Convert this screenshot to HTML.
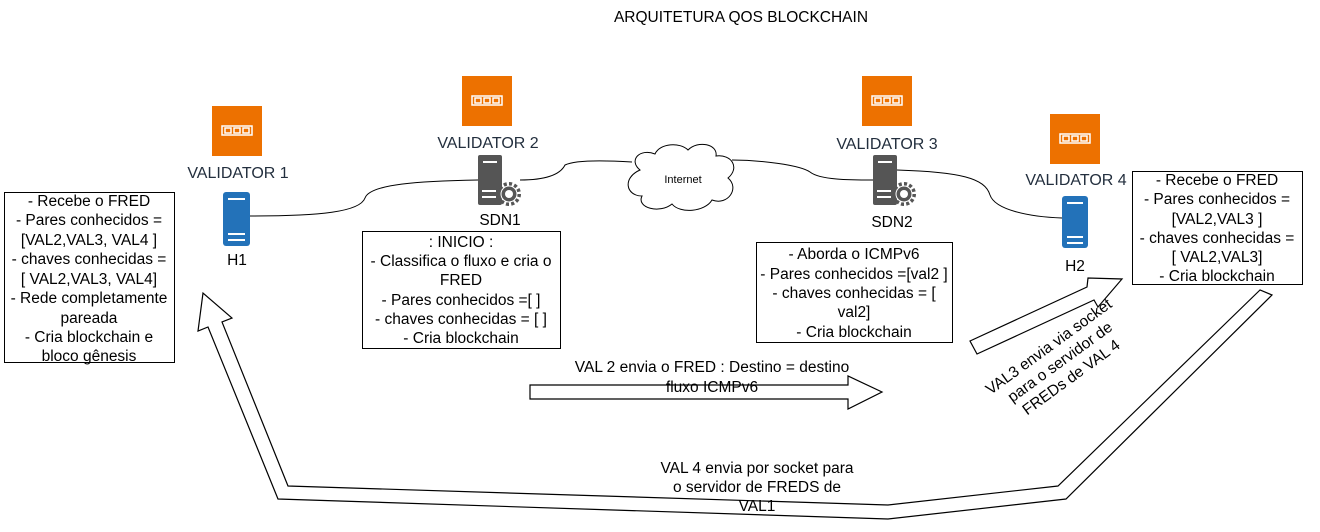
<!DOCTYPE html>
<html><head><meta charset="utf-8"><style>
html,body{margin:0;padding:0;background:#fff;}
svg{display:block;font-family:"Liberation Sans",Arial,sans-serif;}
</style></head><body>
<svg width="1320" height="532" viewBox="0 0 1320 532" xmlns="http://www.w3.org/2000/svg">
<rect width="1320" height="532" fill="#fff"/>
<text x="741" y="22" font-size="15.5" text-anchor="middle" fill="#000">ARQUITETURA QOS BLOCKCHAIN</text>

<g fill="none" stroke="#000" stroke-width="1">
<path d="M250,216 C320,216 360,212 365,198 C370,184 420,181 478,180"/>
<path d="M520,180 C545,180 560,175 565,165 C575,160 600,160 632,162"/>
<path d="M732,160 C760,160 800,165 810,172 C820,180 850,180 873,180"/>
<path d="M897,170 C960,172 985,178 990,195 C995,210 1030,217 1062,218"/>
</g>

<path d="M640,170 C628,160 640,148 655,154 C660,143 680,142 688,150 C698,140 718,144 716,156 C732,154 740,168 728,178 C740,188 728,206 712,200 C705,212 680,214 672,204 C660,214 636,208 642,196 C626,196 622,178 640,170 Z" fill="#fff" stroke="#000" stroke-width="1"/>
<text x="683" y="183" font-size="11" text-anchor="middle">Internet</text>

<g>
<rect x="212" y="106" width="50" height="50" fill="#ED7100"/>
<rect x="462" y="76" width="50" height="50" fill="#ED7100"/>
<rect x="862" y="76" width="50" height="50" fill="#ED7100"/>
<rect x="1050" y="114" width="50" height="50" fill="#ED7100"/>
</g>
<g fill="none" stroke="#fff" stroke-width="1.5">
<g transform="translate(212,106)"><rect x="10" y="20" width="30" height="9"/><rect x="13" y="22" width="6" height="5"/><rect x="22" y="22" width="6" height="5"/><rect x="31" y="22" width="6" height="5"/></g>
<g transform="translate(462,76)"><rect x="10" y="20" width="30" height="9"/><rect x="13" y="22" width="6" height="5"/><rect x="22" y="22" width="6" height="5"/><rect x="31" y="22" width="6" height="5"/></g>
<g transform="translate(862,76)"><rect x="10" y="20" width="30" height="9"/><rect x="13" y="22" width="6" height="5"/><rect x="22" y="22" width="6" height="5"/><rect x="31" y="22" width="6" height="5"/></g>
<g transform="translate(1050,114)"><rect x="10" y="20" width="30" height="9"/><rect x="13" y="22" width="6" height="5"/><rect x="22" y="22" width="6" height="5"/><rect x="31" y="22" width="6" height="5"/></g>
</g>

<g font-size="16" fill="#232F3E" text-anchor="middle">
<text x="238" y="178">VALIDATOR 1</text>
<text x="488" y="148">VALIDATOR 2</text>
<text x="887" y="149">VALIDATOR 3</text>
<text x="1076" y="185">VALIDATOR 4</text>
</g>

<g>
<rect x="223" y="192" width="27" height="54" rx="3" fill="#2372B9"/>
<rect x="228" y="198" width="17" height="2" fill="#fff"/>
<rect x="228" y="233" width="17" height="2" fill="#fff"/>
<rect x="228" y="239" width="17" height="2" fill="#fff"/>
<rect x="1062" y="196" width="26" height="52" rx="3" fill="#2372B9"/>
<rect x="1067" y="202" width="16" height="2" fill="#fff"/>
<rect x="1067" y="236" width="16" height="2" fill="#fff"/>
<rect x="1067" y="242" width="16" height="2" fill="#fff"/>
</g>

<g>
<rect x="478" y="155" width="24" height="50" rx="2" fill="#555"/>
<rect x="483" y="161" width="14" height="2" fill="#fff"/>
<circle cx="509" cy="194" r="10" fill="none" stroke="#555" stroke-width="4" stroke-dasharray="3 2.2"/>
<circle cx="509" cy="194" r="8" fill="#555" stroke="#fff" stroke-width="1"/>
<circle cx="509" cy="194" r="4" fill="#fff"/>
<rect x="482" y="190" width="14" height="2" fill="#fff"/>
<rect x="482" y="196" width="14" height="2" fill="#fff"/>
</g>
<g>
<rect x="873" y="155" width="24" height="50" rx="2" fill="#555"/>
<rect x="878" y="161" width="14" height="2" fill="#fff"/>
<circle cx="904" cy="194" r="10" fill="none" stroke="#555" stroke-width="4" stroke-dasharray="3 2.2"/>
<circle cx="904" cy="194" r="8" fill="#555" stroke="#fff" stroke-width="1"/>
<circle cx="904" cy="194" r="4" fill="#fff"/>
<rect x="877" y="190" width="14" height="2" fill="#fff"/>
<rect x="877" y="196" width="14" height="2" fill="#fff"/>
</g>

<g font-size="15.5" fill="#000" text-anchor="middle">
<text x="237" y="265">H1</text>
<text x="500" y="225">SDN1</text>
<text x="892" y="227">SDN2</text>
<text x="1075" y="271">H2</text>
</g>

<g fill="#fff" stroke="#000" stroke-width="1">
<rect x="4.5" y="192.5" width="170" height="170"/>
<rect x="362.5" y="231.5" width="198" height="117"/>
<rect x="756.5" y="242.5" width="196" height="100"/>
<rect x="1132.5" y="171.5" width="170" height="113"/>
</g>
<g font-size="15.5" fill="#000" text-anchor="middle">
<text x="89" y="206">- Recebe o FRED</text>
<text x="89" y="225">- Pares conhecidos =</text>
<text x="89" y="245">[VAL2,VAL3, VAL4 ]</text>
<text x="89" y="264">- chaves conhecidas =</text>
<text x="89" y="284">[ VAL2,VAL3, VAL4]</text>
<text x="89" y="303">- Rede completamente</text>
<text x="89" y="323">pareada</text>
<text x="89" y="342">- Cria blockchain e</text>
<text x="89" y="361">bloco gênesis</text>

<text x="461" y="247">: INICIO :</text>
<text x="461" y="266">- Classifica o fluxo e cria o</text>
<text x="461" y="285">FRED</text>
<text x="461" y="305">- Pares conhecidos =[ ]</text>
<text x="461" y="324">- chaves conhecidas = [ ]</text>
<text x="461" y="343">- Cria blockchain</text>

<text x="854" y="259">- Aborda o ICMPv6</text>
<text x="854" y="279">- Pares conhecidos =[val2 ]</text>
<text x="854" y="298">- chaves conhecidas = [</text>
<text x="854" y="317">val2]</text>
<text x="854" y="337">- Cria blockchain</text>

<text x="1217" y="185">- Recebe o FRED</text>
<text x="1217" y="204">- Pares conhecidos =</text>
<text x="1217" y="224">[VAL2,VAL3 ]</text>
<text x="1217" y="243">- chaves conhecidas =</text>
<text x="1217" y="262">[ VAL2,VAL3]</text>
<text x="1217" y="281">- Cria blockchain</text>
</g>

<g fill="none" stroke="#000" stroke-width="1.2" stroke-linejoin="miter">
<polygon points="530,385 848,385 848,376 882,392 848,409 848,399 530,399"/>
<polygon points="970,341 1087,287 1088,278 1122,279 1098,307 1094,300 977,354"/>
<polygon points="1260,290 1058,486 888,505 288,486 222,322 232,318 203,293 198,331 208,327 278,499 888,519 1066,499 1272,295"/>
</g>

<g font-size="15.5" fill="#000" text-anchor="middle">
<text x="712" y="372">VAL 2 envia o FRED : Destino = destino</text>
<text x="712" y="392">fluxo ICMPv6</text>
<text x="757" y="473">VAL 4 envia por socket para</text>
<text x="757" y="492">o servidor de FREDS de</text>
<text x="757" y="511">VAL1</text>
</g>
<g font-size="15.5" fill="#000" text-anchor="middle" transform="translate(1060,362) rotate(-36)">
<text x="0" y="-14">VAL3 envia via socket</text>
<text x="0" y="5">para o servidor de</text>
<text x="0" y="24">FREDs de VAL 4</text>
</g>
</svg>
</body></html>
